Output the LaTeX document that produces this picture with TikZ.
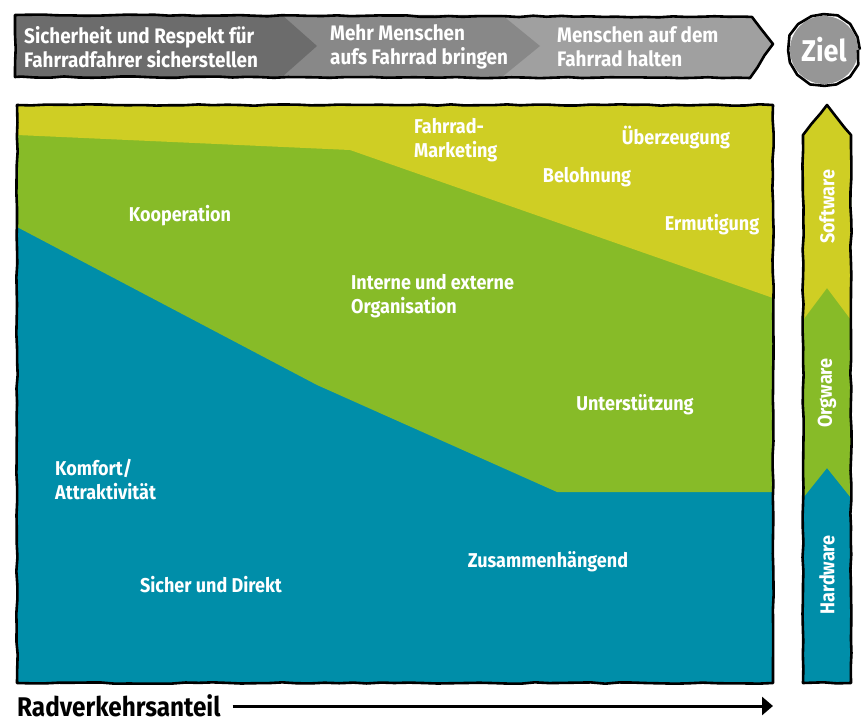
\documentclass[tikz,border=0pt]{standalone}
\usepackage{fontspec}
\setmainfont{Fira Sans}[FakeStretch=0.9]
\usetikzlibrary{calc}
\usetikzlibrary{arrows.meta}
\usetikzlibrary{decorations.pathmorphing}

\definecolor{greyA}{RGB}{108,108,108}
\definecolor{greyB}{RGB}{136,136,136}
\definecolor{greyC}{RGB}{160,160,160}
\definecolor{greyZ}{RGB}{150,150,150}
\definecolor{softY}{RGB}{207,206,36}
\definecolor{orgG}{RGB}{135,187,40}
\definecolor{hardT}{RGB}{0,142,169}

\tikzset{
 rough/.style={draw=black, line width=2.6pt, line join=round,
   decorate, decoration={random steps, segment length=14pt, amplitude=0.7pt}},
 lbl/.style={text=white, font=\bfseries\fontsize{20}{24}\selectfont, align=left, inner sep=0pt},
 goallbl/.style={lbl, anchor=west, font=\bfseries\fontsize{21}{24}\selectfont},
 sidelbl/.style={lbl, rotate=90, anchor=center},
}

\begin{document}
\begin{tikzpicture}[x=1pt, y=-1pt]
\useasboundingbox (0,0) rectangle (863,722);

\fill[greyC] (15,15) -- (752,17) -- (773,44) -- (750,78) -- (15,77) -- cycle;
\fill[greyB] (15,15) -- (502,15) -- (540,46) -- (502,77) -- (15,77) -- cycle;
\fill[greyA] (15,15) -- (282,15) -- (317,46) -- (282,77) -- (15,77) -- cycle;
\draw[rough] (15,15) -- (752,17) -- (773,44) -- (750,78) -- (15,77) -- cycle;

\node[goallbl] (goalA) at (24,47) {Sicherheit und Respekt für\\Fahrradfahrer sicherstellen};
\node[goallbl] (goalB) at (330,47) {Mehr Menschen\\aufs Fahrrad bringen};
\node[goallbl] (goalC) at (557,47) {Menschen auf dem\\Fahrrad halten};

\fill[greyZ] (824,50) circle (34);
\draw[rough] (824,50) circle (34);
\node[lbl, font=\bfseries\fontsize{30}{34}\selectfont] (ziel) at (824,50) {Ziel};

\fill[hardT] (17,105) rectangle (773,683);
\fill[orgG] (17,105) -- (773,105) -- (773,492) -- (557,492) -- (317,385) -- (17,227) -- cycle;
\fill[softY] (17,105) -- (773,105) -- (773,298) -- (350,150) -- (17,135) -- cycle;
\draw[rough] (17,105) -- (773,105) -- (773,683) -- (17,683) -- cycle;

\node[lbl, anchor=west] (marketing) at (414,140) {Fahrrad-\\Marketing};
\node[lbl] (ueberzeugung) at (676,137) {Überzeugung};
\node[lbl] (belohnung) at (587,177) {Belohnung};
\node[lbl] (ermutigung) at (712,225) {Ermutigung};
\node[lbl] (kooperation) at (180,216) {Kooperation};
\node[lbl, anchor=west] (organisation) at (351,296) {Interne und externe\\Organisation};
\node[lbl] (unterstuetzung) at (635,405) {Unterstützung};
\node[lbl, anchor=west] (komfort) at (55,480) {Komfort/\\Attraktivität};
\node[lbl] (sicher) at (211,585) {Sicher und Direkt};
\node[lbl] (zusammen) at (548,562) {Zusammenhängend};

\begin{scope}
\clip (803,135) -- (827,105) -- (851,135) -- (851,683) -- (803,683) -- cycle;
\fill[hardT] (790,95) rectangle (860,690);
\fill[orgG] (790,95) -- (860,95) -- (860,498) -- (851,498) -- (827,468) -- (803,498) -- (790,498) -- cycle;
\fill[softY] (790,95) -- (860,95) -- (860,320) -- (851,320) -- (827,288) -- (803,320) -- (790,320) -- cycle;
\end{scope}
\draw[rough] (803,135) -- (827,105) -- (851,135) -- (851,683) -- (803,683) -- cycle;

\node[sidelbl] (software) at (827,207) {Software};
\node[sidelbl] (orgware) at (827,393) {Orgware};
\node[sidelbl] (hardware) at (827,575) {Hardware};

\node[font=\bfseries\fontsize{27}{30}\selectfont, inner sep=0pt, anchor=west] (axis) at (17,706) {Radverkehrsanteil};
\coordinate (axisend) at (773,706);
\draw[line width=3pt, shorten <=12pt, -{Triangle[length=11pt, width=18pt]}] (axis) -- (axisend);
\end{tikzpicture}
\end{document}
